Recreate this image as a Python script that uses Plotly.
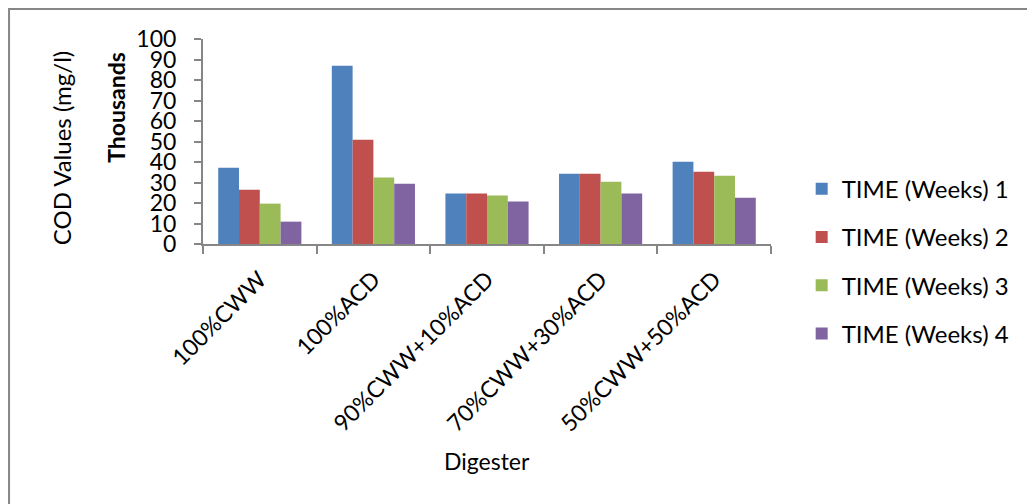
import plotly.graph_objects as go

# COD values (thousands of mg/l) per digester, measured weekly
digesters = ["100%CWW", "100%ACD", "90%CWW+10%ACD", "70%CWW+30%ACD", "50%CWW+50%ACD"]
week1 = [37.2, 86.9, 24.6, 34.3, 40.1]
week2 = [26.5, 50.9, 24.6, 34.3, 35.3]
week3 = [19.7, 32.4, 23.6, 30.4, 33.3]
week4 = [10.9, 29.4, 20.7, 24.6, 22.6]
series_names = ["TIME (Weeks) 1", "TIME (Weeks) 2", "TIME (Weeks) 3", "TIME (Weeks) 4"]
colors = ["#4F81BD", "#C0504D", "#9BBB59", "#8064A2"]
y_ticks = list(range(0, 101, 10))

W, H = 1027, 504
L, R, T, B = 203, 777, 39, 244.5  # plot-area pixel edges
FONT = "Lato"
AXIS = "#868686"


def px(x):
    return (x - L) / (R - L)


def py(y):
    return (B - y) / (B - T)


fig = go.Figure()
for i, (name, vals) in enumerate(zip(series_names, [week1, week2, week3, week4])):
    fig.add_trace(go.Bar(
        x=digesters, y=vals, name=name, legendgroup=name,
        marker=dict(color=colors[i], line=dict(width=0)),
    ))

fig.update_layout(
    width=W, height=H,
    margin=dict(l=L, r=W - R, t=T, b=H - B, pad=0),
    paper_bgcolor="white", plot_bgcolor="white",
    barmode="group", bargap=0.268, bargroupgap=0,
    font=dict(family=FONT, size=23, color="black"),
    showlegend=True,
    legend=dict(
        x=px(808), y=py(167), xanchor="left", yanchor="top",
        font=dict(family=FONT, size=24, color="black"),
        tracegroupgap=14, itemwidth=30, bgcolor="rgba(0,0,0,0)",
    ),
    xaxis=dict(
        showline=True, linecolor=AXIS, linewidth=2,
        ticks="outside", tickson="boundaries", ticklen=8, tickwidth=2, tickcolor=AXIS,
        tickangle=-45, ticklabelstandoff=11,
        tickfont=dict(family=FONT, size=23, color="black"),
        showgrid=False, zeroline=False,
    ),
    yaxis=dict(
        range=[0, 100], tickvals=y_ticks, ticktext=[str(v) for v in y_ticks],
        showline=True, linecolor=AXIS, linewidth=2,
        ticks="outside", ticklen=7, tickwidth=2, tickcolor=AXIS,
        ticklabelstandoff=13,
        tickfont=dict(family=FONT, size=23, color="black"),
        showgrid=False, zeroline=False,
    ),
    shapes=[dict(
        type="rect", xref="paper", yref="paper",
        x0=px(7), y0=py(520), x1=px(1040), y1=py(9),
        line=dict(color=AXIS, width=2), fillcolor="rgba(0,0,0,0)", layer="below",
    )],
    annotations=[
        dict(text="COD Values (mg/l)", xref="paper", yref="paper", x=px(60), y=py(148),
             xanchor="center", yanchor="middle", textangle=-90, showarrow=False,
             font=dict(family=FONT, size=24, color="black")),
        dict(text="<b>Thousands</b>", xref="paper", yref="paper", x=px(115), y=py(107),
             xanchor="center", yanchor="middle", textangle=-90, showarrow=False,
             font=dict(family=FONT, size=23, color="black")),
        dict(text="Digester", xref="paper", yref="paper", x=px(489.7), y=py(462),
             xanchor="center", yanchor="middle", showarrow=False,
             font=dict(family=FONT, size=23, color="black")),
    ],
)

fig.write_html("out.html")
